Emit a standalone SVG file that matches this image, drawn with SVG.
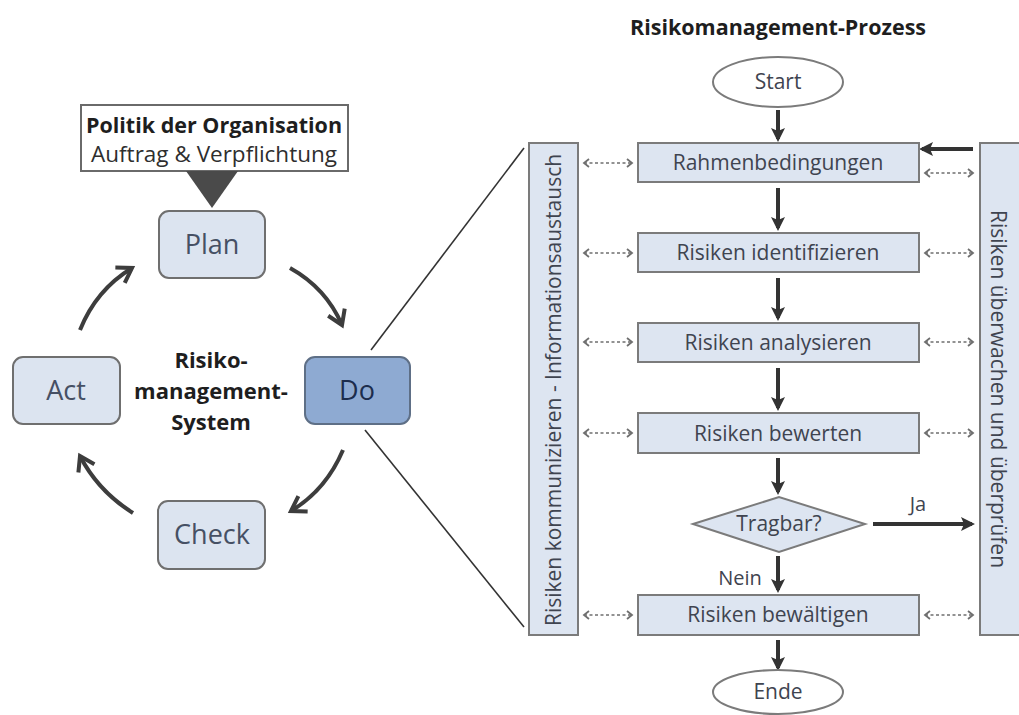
<svg xmlns="http://www.w3.org/2000/svg" width="1019" height="715" viewBox="0 0 1019 715">
<defs>
<style>
.t{font-family:"Open Sans","Liberation Sans",sans-serif;}
.box{fill:#dde5f1;stroke:#7b7b7b;stroke-width:2;}
.pd{fill:#dce4f0;stroke:#6f6f6f;stroke-width:2;}
.ft{font-size:21px;fill:#3f4450;text-anchor:middle;}
.pt{font-size:27px;fill:#465064;text-anchor:middle;}
.bold{font-weight:bold;fill:#1e1e1e;}
.down{stroke:#333;stroke-width:4;fill:none;marker-end:url(#ah);}
.dash{stroke:#6f6f6f;stroke-width:1.6;stroke-dasharray:3 2.5;fill:none;marker-start:url(#dh);marker-end:url(#dh);}
.cyc{stroke:#3d3d3d;stroke-width:4;fill:none;marker-end:url(#ch);}
.thin{stroke:#333;stroke-width:1.6;fill:none;}
</style>
<marker id="ah" viewBox="0 0 14 14" refX="11" refY="7" markerWidth="14" markerHeight="14" markerUnits="userSpaceOnUse" orient="auto">
<path d="M0,0 L14,7 L0,14 L3,7 z" fill="#333"/>
</marker>
<marker id="dh" viewBox="0 0 10 10" refX="8" refY="5" markerWidth="10" markerHeight="10" markerUnits="userSpaceOnUse" orient="auto-start-reverse">
<path d="M3,1 L8,5 L3,9" fill="none" stroke="#6f6f6f" stroke-width="1.8"/>
</marker>
<marker id="ch" viewBox="0 0 22 22" refX="17" refY="11" markerWidth="22" markerHeight="22" markerUnits="userSpaceOnUse" orient="auto">
<path d="M3,2 L17,11 L3,20" fill="none" stroke="#3d3d3d" stroke-width="4" stroke-linejoin="miter"/>
</marker>
</defs>
<rect width="1019" height="715" fill="#ffffff"/>

<text class="t bold" x="778" y="35" font-size="21.5" text-anchor="middle">Risikomanagement-Prozess</text>

<g id="connectors">
<line class="thin" x1="371" y1="350" x2="524" y2="148"/>
<line class="thin" x1="365" y1="430" x2="524" y2="627"/>
<path class="cyc" d="M290,268 Q326,288 342,325"/>
<path class="cyc" d="M80,330 Q96,290 132,268"/>
<path class="cyc" d="M343,450 Q326,490 291,511"/>
<path class="cyc" d="M133,513 Q98,491 80,456"/>
<line class="down" x1="778" y1="110" x2="778" y2="139"/>
<line class="down" x1="778" y1="188" x2="778" y2="228"/>
<line class="down" x1="778" y1="278" x2="778" y2="318"/>
<line class="down" x1="778" y1="368" x2="778" y2="408"/>
<line class="down" x1="778" y1="458" x2="778" y2="492"/>
<line class="down" x1="778" y1="556" x2="778" y2="590"/>
<line class="down" x1="778" y1="640" x2="778" y2="668"/>
<line class="down" x1="873" y1="524" x2="972" y2="524"/>
<line class="down" x1="973" y1="149" x2="922" y2="149"/>
<line class="dash" x1="584" y1="163" x2="632" y2="163"/>
<line class="dash" x1="584" y1="253" x2="632" y2="253"/>
<line class="dash" x1="584" y1="342" x2="632" y2="342"/>
<line class="dash" x1="584" y1="433" x2="632" y2="433"/>
<line class="dash" x1="584" y1="615" x2="632" y2="615"/>
<line class="dash" x1="925" y1="173" x2="973" y2="173"/>
<line class="dash" x1="925" y1="253" x2="973" y2="253"/>
<line class="dash" x1="925" y1="342" x2="973" y2="342"/>
<line class="dash" x1="925" y1="433" x2="973" y2="433"/>
<line class="dash" x1="925" y1="615" x2="973" y2="615"/>
<text class="t" x="918" y="511" font-size="20" fill="#3f4450" text-anchor="middle">Ja</text>
<text class="t" x="740" y="585" font-size="20" fill="#3f4450" text-anchor="middle">Nein</text>
</g>

<g id="policy">
<rect x="81" y="105" width="267" height="66" fill="#ffffff" stroke="#6a6a6a" stroke-width="2"/>
<text class="t bold" x="214" y="133" font-size="21.5" text-anchor="middle">Politik der Organisation</text>
<text class="t" x="214" y="162" font-size="22.5" fill="#2e2e2e" text-anchor="middle">Auftrag &amp; Verpflichtung</text>
<polygon points="186,171 238,171 212,208" fill="#4a4a4a"/>
</g>

<g id="plan">
<rect class="pd" x="159" y="211" width="106" height="67" rx="10"/>
<text class="t pt" x="212" y="254">Plan</text>
</g>
<g id="do">
<rect x="305" y="357" width="105" height="67" rx="10" fill="#8eaad2" stroke="#5e6f86" stroke-width="2"/>
<text class="t" x="357" y="400" font-size="27" fill="#1c2d4d" text-anchor="middle">Do</text>
</g>
<g id="act">
<rect class="pd" x="13" y="357" width="107" height="67" rx="10"/>
<text class="t pt" x="66" y="400">Act</text>
</g>
<g id="check">
<rect class="pd" x="158" y="501" width="107" height="68" rx="10"/>
<text class="t pt" x="212" y="544">Check</text>
</g>
<g id="center-label">
<text class="t bold" x="211" y="368" font-size="22" text-anchor="middle">Risiko-</text>
<text class="t bold" x="211" y="399" font-size="22" text-anchor="middle">management-</text>
<text class="t bold" x="211" y="430" font-size="22" text-anchor="middle">System</text>
</g>

<g id="start">
<ellipse cx="778" cy="82" rx="65" ry="25" fill="#ffffff" stroke="#7b7b7b" stroke-width="2"/>
<text class="t ft" x="778" y="89" font-size="19">Start</text>
</g>
<g id="rahmen">
<rect class="box" x="638" y="143" width="281" height="39"/>
<text class="t ft" x="778" y="170">Rahmenbedingungen</text>
</g>
<g id="identifizieren">
<rect class="box" x="638" y="233" width="281" height="39"/>
<text class="t ft" x="778" y="260">Risiken identifizieren</text>
</g>
<g id="analysieren">
<rect class="box" x="638" y="323" width="281" height="39"/>
<text class="t ft" x="778" y="350">Risiken analysieren</text>
</g>
<g id="bewerten">
<rect class="box" x="638" y="413" width="281" height="40"/>
<text class="t ft" x="778" y="441">Risiken bewerten</text>
</g>
<g id="tragbar">
<polygon points="693,524 779,497 865,524 779,552" fill="#dde5f1" stroke="#7b7b7b" stroke-width="2"/>
<text class="t ft" x="779" y="531" font-size="20">Tragbar?</text>
</g>
<g id="bewaeltigen">
<rect class="box" x="638" y="595" width="281" height="40"/>
<text class="t ft" x="778" y="622">Risiken bewältigen</text>
</g>
<g id="ende">
<ellipse cx="778" cy="692" rx="65" ry="22" fill="#ffffff" stroke="#7b7b7b" stroke-width="2"/>
<text class="t ft" x="778" y="699" font-size="19">Ende</text>
</g>
<g id="kommunizieren">
<rect class="box" x="529" y="143" width="49" height="492"/>
<text class="t ft" transform="translate(561,390) rotate(-90)" x="0" y="0">Risiken kommunizieren - Informationsaustausch</text>
</g>
<g id="ueberwachen">
<rect class="box" x="980" y="143" width="44" height="492"/>
<text class="t ft" transform="translate(991,389) rotate(90)" x="0" y="0">Risiken überwachen und überprüfen</text>
</g>
</svg>
